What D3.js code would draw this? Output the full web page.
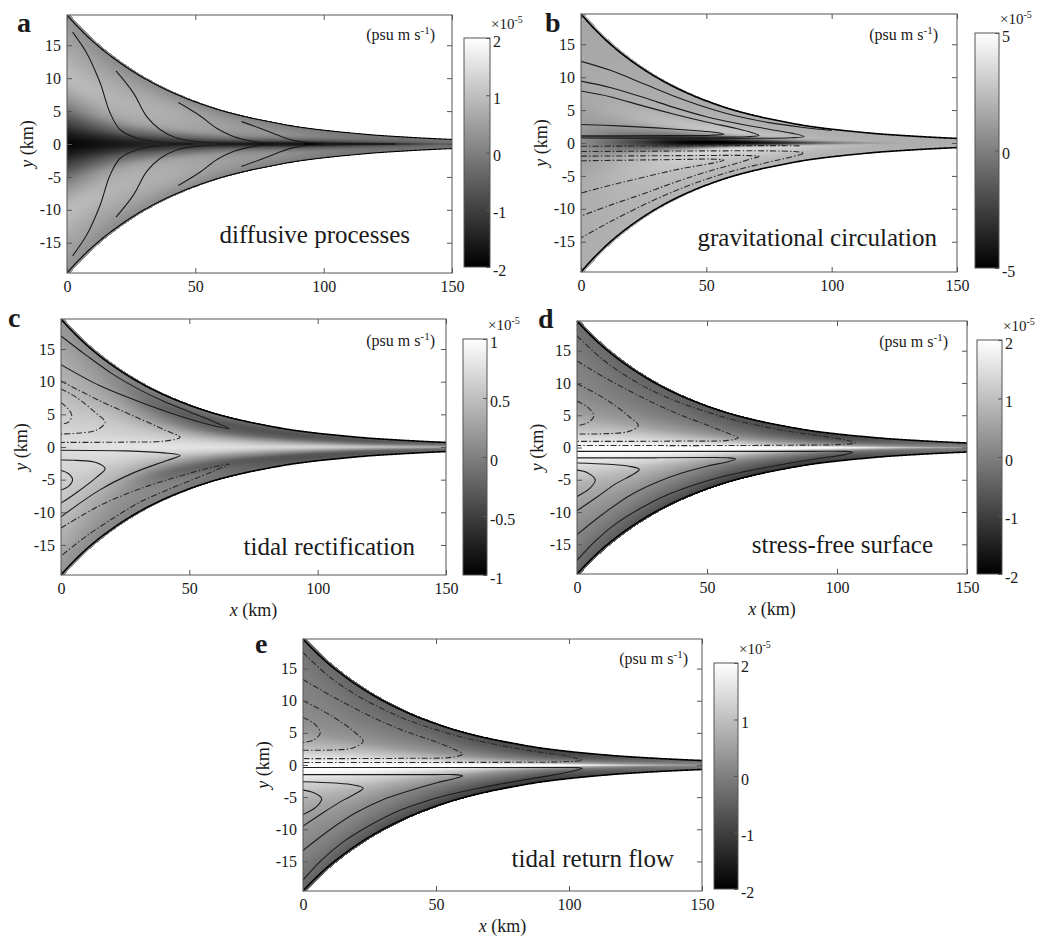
<!DOCTYPE html>
<html>
<head>
<meta charset="utf-8">
<script src="https://cdn.jsdelivr.net/npm/d3@7/dist/d3.min.js"></script>
<style>
  html, body { margin: 0; padding: 0; background: #fff; }
  svg { display: block; }
  svg text { font-family: "Liberation Serif", "Times New Roman", serif; fill: #1a1a1a; }
</style>
</head>
<body>
<svg id="fig" width="1053" height="939" viewBox="0 0 1053 939"></svg>
<script>
// ---------- channel geometry: half-width (km) sampled along the channel ----------
const boundaryX    = [0, 10, 20, 30, 40, 50, 60, 70, 80, 90, 100, 110, 120, 130, 140, 150];
const boundaryHalf = [19.6, 15.6, 12.5, 10.0, 8.0, 6.4, 5.1, 4.1, 3.3, 2.6, 2.1, 1.7, 1.35, 1.1, 0.88, 0.7];

// ---------- flux fields, sampled at along-channel nodes x and relative cross-channel nodes eta = y / half-width ----------
const xNodes   = [0, 20, 40, 60, 80, 100, 125, 150];
const etaNodes = [1, 0.75, 0.5, 0.3, 0.15, 0.05, 0, -0.05, -0.15, -0.3, -0.5, -0.75, -1];

// (a) diffusive processes, units of 1e-5 psu m/s
const fieldA = [
  [ 0.3,  0.2,  0.2,  0.1,  0.0, -0.1, -0.2, -0.2],
  [ 0.6,  0.6,  0.6,  0.4,  0.2,  0.0, -0.2, -0.2],
  [ 0.9,  0.8,  0.7,  0.5,  0.3,  0.0, -0.3, -0.2],
  [ 0.1,  0.5,  0.5,  0.3,  0.0, -0.4, -0.5, -0.3],
  [-1.0, -0.5, -0.4, -0.4, -0.7, -1.0, -0.8, -0.4],
  [-1.7, -1.4, -1.2, -1.2, -1.5, -1.8, -1.3, -0.5],
  [-1.9, -1.6, -1.4, -1.4, -1.8, -1.95,-1.4, -0.5],
  [-1.7, -1.4, -1.2, -1.2, -1.5, -1.8, -1.3, -0.5],
  [-1.0, -0.5, -0.4, -0.4, -0.7, -1.0, -0.8, -0.4],
  [ 0.1,  0.5,  0.5,  0.3,  0.0, -0.4, -0.5, -0.3],
  [ 0.9,  0.8,  0.7,  0.5,  0.3,  0.0, -0.3, -0.2],
  [ 0.6,  0.6,  0.6,  0.4,  0.2,  0.0, -0.2, -0.2],
  [ 0.3,  0.2,  0.2,  0.1,  0.0, -0.1, -0.2, -0.2]
];
// (b) gravitational circulation
const fieldB = [
  [1.5, 1.6, 1.7, 1.7, 1.8, 1.8, 1.8, 1.8],
  [1.6, 1.7, 1.8, 1.9, 1.9, 1.8, 1.8, 1.8],
  [1.6, 1.8, 2.0, 2.2, 2.1, 1.9, 1.8, 1.8],
  [1.5, 1.9, 2.4, 2.6, 2.3, 2.0, 1.8, 1.8],
  [1.1, 0.6,-0.3,-0.3, 0.8, 1.5, 1.8, 1.8],
  [0.7,-1.5,-4.0,-4.4,-2.6, 0.0, 1.6, 1.8],
  [0.5,-2.0,-4.6,-4.9,-3.5,-0.8, 1.4, 1.8],
  [0.7,-0.8,-2.6,-3.0,-1.8, 0.4, 1.6, 1.8],
  [1.3, 1.8, 2.5, 3.0, 2.8, 2.2, 1.8, 1.8],
  [1.7, 2.3, 3.0, 3.2, 3.0, 2.4, 1.9, 1.8],
  [1.8, 2.2, 2.5, 2.6, 2.5, 2.1, 1.9, 1.8],
  [1.8, 2.0, 2.2, 2.2, 2.1, 2.0, 1.9, 1.8],
  [1.8, 1.9, 2.0, 2.0, 2.0, 1.9, 1.8, 1.8]
];
// (c) tidal rectification
const fieldC = [
  [0.15, 0.05,-0.05,-0.1, -0.2, -0.25,-0.2, -0.15],
  [0.3,  0.15,-0.2, -0.3, -0.35,-0.35,-0.3, -0.2 ],
  [0.4,  0.35, 0.1, -0.15,-0.2, -0.2, -0.2, -0.1 ],
  [0.55, 0.55, 0.45, 0.3,  0.2,  0.15, 0.05, 0.05],
  [0.65, 0.65, 0.65, 0.6,  0.5,  0.45, 0.3,  0.2 ],
  [0.72, 0.75, 0.75, 0.72, 0.65, 0.6,  0.45, 0.3 ],
  [0.73, 0.77, 0.78, 0.75, 0.68, 0.62, 0.48, 0.32],
  [0.72, 0.75, 0.75, 0.72, 0.65, 0.6,  0.45, 0.3 ],
  [0.68, 0.66, 0.6,  0.55, 0.45, 0.4,  0.3,  0.2 ],
  [0.6,  0.5,  0.3,  0.15, 0.1,  0.05, 0.0,  0.0 ],
  [0.5,  0.3, -0.1, -0.25,-0.3, -0.3, -0.25,-0.15],
  [0.35, 0.15, 0.05,-0.1, -0.3, -0.35,-0.3, -0.2 ],
  [0.15, 0.05, 0.0, -0.1, -0.2, -0.25,-0.2, -0.15]
];
// (d) stress-free surface
const fieldD = [
  [-0.3, -0.4, -0.5, -0.7, -0.9, -0.9, -0.6, -0.3],
  [-0.05,-0.2, -0.3, -0.5, -0.7, -0.8, -0.5, -0.2],
  [ 0.1,  0.05, 0.0, -0.15,-0.35,-0.5, -0.3, -0.1],
  [ 0.4,  0.5,  0.5,  0.4,  0.2,  0.0,  0.0,  0.0],
  [ 1.0,  1.2,  1.2,  1.1,  0.8,  0.6,  0.3,  0.1],
  [ 1.6,  1.7,  1.7,  1.7,  1.6,  1.5,  0.8,  0.3],
  [ 1.95, 1.95, 1.95, 1.95, 1.9,  1.9,  1.1,  0.4],
  [ 1.95, 1.95, 1.95, 1.95, 1.9,  1.8,  1.0,  0.4],
  [ 1.4,  1.5,  1.5,  1.4,  1.1,  0.8,  0.4,  0.1],
  [ 0.8,  0.9,  0.8,  0.6,  0.3,  0.0, -0.1,  0.0],
  [ 0.4,  0.4,  0.2, -0.1, -0.3, -0.5, -0.3, -0.1],
  [ 0.0, -0.1, -0.3, -0.6, -0.8, -0.8, -0.5, -0.2],
  [-0.4, -0.6, -0.8, -1.0, -1.1, -1.0, -0.6, -0.3]
];
// (e) tidal return flow
const fieldE = [
  [-0.3, -0.4, -0.5, -0.7, -0.9, -0.9, -0.6, -0.3],
  [-0.05,-0.2, -0.3, -0.5, -0.7, -0.8, -0.5, -0.2],
  [ 0.1,  0.05, 0.0, -0.15,-0.35,-0.5, -0.3, -0.1],
  [ 0.3,  0.4,  0.4,  0.3,  0.1,  0.0,  0.0,  0.0],
  [ 0.9,  1.1,  1.1,  1.0,  0.8,  0.6,  0.3,  0.1],
  [ 1.6,  1.7,  1.7,  1.7,  1.6,  1.5,  0.8,  0.3],
  [ 1.95, 1.95, 1.95, 1.95, 1.9,  1.9,  1.1,  0.4],
  [ 1.95, 1.95, 1.95, 1.95, 1.9,  1.8,  1.0,  0.4],
  [ 1.3,  1.4,  1.4,  1.3,  1.0,  0.7,  0.4,  0.1],
  [ 0.7,  0.8,  0.7,  0.5,  0.2,  0.0, -0.1,  0.0],
  [ 0.3,  0.3,  0.1, -0.1, -0.3, -0.5, -0.3, -0.1],
  [ 0.0, -0.1, -0.3, -0.6, -0.8, -0.8, -0.5, -0.2],
  [-0.4, -0.6, -0.8, -1.0, -1.1, -1.0, -0.6, -0.3]
];

// ---------- contour lines, [x km, y km] ----------
// (a) upper half; the lower half is its mirror image
const aLines = [
  [[2.2,17.0],[7.7,13.8],[12.9,9.3],[16.7,4.8],[20.6,2.2],[27.1,0.9],[36.2,0.25],[49,0.02]],
  [[19.1,11.1],[25.8,7.8],[31,4.2],[36.2,2.2],[42.7,0.9],[51.8,0.3],[68.7,0.03]],
  [[43.4,6.3],[51.8,4.3],[58.3,2.4],[64.8,1.15],[72.6,0.4],[80,0.12],[92,0.02]],
  [[68,3.4],[75.2,2.4],[81.7,1.4],[88.2,0.55],[97,0.15],[110,0.04],[128,0]]
];
const bSolid = [
  [[0,12.4],[12,11.0],[25,9.0],[38,7.0],[50,5.4],[62,4.1],[75,3.1],[88,2.4],[100,1.9]],
  [[0,9.4],[12,8.4],[25,6.9],[38,5.3],[50,4.0],[62,3.0],[75,2.1],[84,1.5],[89,1.0],[84,0.8],[70,0.72],[50,0.7],[25,0.72],[0,0.75]],
  [[0,7.9],[12,7.0],[25,5.6],[38,4.3],[50,3.2],[62,2.2],[68,1.6],[71,1.15],[66,0.95],[50,0.9],[25,0.92],[0,0.95]],
  [[0,2.8],[15,2.6],[30,2.3],[45,1.9],[54,1.6],[57,1.35],[52,1.18],[35,1.12],[0,1.1]]
];
const bDash = [
  [[0,-0.5],[30,-0.45],[60,-0.4],[80,-0.4],[88,-0.45]],
  [[0,-1.3],[25,-1.25],[50,-1.2],[75,-1.2],[85,-1.3],[89,-1.5],[85,-2.0],[75,-2.9],[62,-4.1],[50,-5.5],[38,-7.2],[25,-9.4],[12,-11.9],[0,-14.4]],
  [[0,-2.0],[25,-1.95],[50,-1.9],[66,-1.9],[71,-2.05],[68,-2.4],[62,-3.1],[50,-4.4],[38,-5.9],[25,-7.7],[12,-9.4],[0,-11.1]],
  [[0,-2.7],[20,-2.6],[40,-2.5],[52,-2.45],[57,-2.6],[52,-3.1],[40,-3.9],[25,-5.2],[12,-6.4],[0,-7.6]]
];
const cSolid = [
  [[0,17.0],[10,14.0],[20,11.2],[30,8.9],[40,7.0],[50,5.4],[60,3.8],[65.5,2.8],[58,3.4],[45,4.9],[30,7.0],[15,9.4],[0,12.6]],
  [[0,-0.5],[25,-0.6],[40,-0.9],[46.4,-1.3],[41,-2.1],[28,-4.0],[15,-6.6],[0,-10.7]],
  [[0,-2.0],[6,-2.05],[13.9,-2.4],[17.2,-3.3],[13.9,-4.6],[6,-7.0],[0,-8.6]],
  [[0,-3.6],[3,-4.1],[4.5,-5.0],[3,-6.0],[0,-6.6]]
];
const cDash = [
  [[0,10.1],[15,7.1],[28,4.8],[41,2.5],[46.4,1.5],[40,0.9],[25,0.75],[0,0.7]],
  [[0,8.9],[6,7.6],[13.9,5.1],[17.2,3.8],[13.9,2.6],[6,2.1],[0,2.0]],
  [[0,6.8],[2.9,5.8],[4.2,4.8],[2.9,3.8],[0,3.5]],
  [[0,-12.4],[15,-9.0],[30,-6.5],[45,-4.6],[58,-3.2],[65.5,-2.6],[60,-3.6],[50,-5.2],[40,-6.8],[30,-8.6],[20,-11.0],[10,-13.6],[0,-16.7]]
];
const dSolid = [
  [[0,-0.6],[30,-0.6],[60,-0.6],[90,-0.6],[103,-0.6],[106,-0.75],[103,-1.1],[95,-1.6],[85,-2.2],[75,-2.9],[65,-3.7],[55,-4.6],[45,-5.8],[35,-7.3],[25,-9.3],[15,-11.8],[7,-14.5],[0,-17.5]],
  [[0,-1.6],[30,-1.6],[50,-1.55],[58,-1.6],[61,-1.8],[58,-2.2],[50,-2.9],[40,-4.0],[30,-5.5],[20,-7.5],[10,-10.3],[0,-13.5]],
  [[0,-2.4],[12,-2.6],[20,-2.9],[24,-3.4],[21,-4.3],[15,-5.6],[8,-7.6],[0,-9.8]],
  [[0,-3.5],[4,-3.9],[7,-5.0],[5,-6.3],[0,-7.6]]
];
const dDash = [
  [[0,17.3],[10,13.6],[20,10.8],[30,8.6],[40,6.9],[50,5.5],[60,4.3],[70,3.4],[80,2.6],[90,2.0],[100,1.4],[105,1.0],[107,0.7],[100,0.45],[80,0.35],[50,0.3],[25,0.3],[0,0.3]],
  [[0,13.4],[10,11.0],[20,8.8],[30,6.8],[40,5.0],[50,3.5],[58,2.2],[62,1.5],[58,1.1],[40,1.0],[20,0.95],[0,0.95]],
  [[0,9.9],[8,8.2],[15,6.4],[20,4.8],[23.6,3.4],[20,2.5],[12,2.15],[0,2.1]],
  [[0,7.2],[4,6.3],[6.5,4.9],[4,3.8],[0,3.4]]
];
const eSolid = [
  [[0,-0.4],[30,-0.4],[60,-0.4],[90,-0.4],[102,-0.4],[105,-0.5],[102,-0.9],[95,-1.5],[85,-2.2],[75,-2.9],[65,-3.7],[55,-4.6],[45,-5.8],[35,-7.3],[25,-9.4],[15,-12.0],[7,-14.8],[0,-17.9]],
  [[0,-1.5],[30,-1.5],[50,-1.5],[57,-1.5],[60,-1.7],[57,-2.1],[50,-2.8],[40,-4.0],[30,-5.4],[20,-7.4],[10,-10.1],[0,-13.3]],
  [[0,-2.6],[12,-2.8],[19,-3.1],[22.6,-3.6],[20,-4.4],[15,-5.5],[8,-7.3],[0,-9.5]],
  [[0,-3.9],[4,-4.3],[7,-5.2],[5,-6.5],[0,-7.7]]
];
const eDash = [
  [[0,17.5],[10,13.7],[20,10.9],[30,8.7],[40,6.9],[50,5.5],[60,4.3],[70,3.4],[80,2.6],[90,1.95],[100,1.35],[103,1.0],[105,0.73],[98,0.5],[80,0.42],[50,0.4],[25,0.4],[0,0.4]],
  [[0,13.3],[10,10.9],[20,8.7],[30,6.7],[40,5.0],[50,3.6],[57,2.4],[60,1.7],[56,1.2],[40,1.05],[20,1.0],[0,1.0]],
  [[0,10.0],[8,8.3],[15,6.5],[20,4.9],[22.6,3.7],[19,2.7],[12,2.35],[0,2.3]],
  [[0,7.4],[4,6.5],[6.5,5.0],[4,3.9],[0,3.5]]
];

// ---------- axis ticks and labels ----------
const xTicks = [0, 50, 100, 150];
const yTicks = [-15, -10, -5, 0, 5, 10, 15];
const yHalfRange = 19.6;
const panelLetters = ["a", "b", "c", "d", "e"];
const panelTitles = ["diffusive processes", "gravitational circulation", "tidal rectification", "stress-free surface", "tidal return flow"];
const colorLimits = [2, 5, 1, 2, 2];
const colorTicks = [[-2,-1,0,1,2], [-5,0,5], [-1,-0.5,0,0.5,1], [-2,-1,0,1,2], [-2,-1,0,1,2]];

// ---------- layout ----------
const layout = [
  { frame:[67,452,15,273],  cb:[464,490,38,267],  letter:[17,32],  titleRight:410, titleBase:243, unitRight:435, unitBase:40,  xLabel:false },
  { frame:[581,957,14,272], cb:[975,999,33,268],  letter:[545,32], titleRight:937, titleBase:246, unitRight:938, unitBase:40,  xLabel:false },
  { frame:[61,446,319,575], cb:[463,487,339,575], letter:[8,327],  titleRight:415, titleBase:555, unitRight:435, unitBase:346, xLabel:true },
  { frame:[577,967,321,574],cb:[977,1002,340,574],letter:[538,328],titleRight:933, titleBase:553, unitRight:948, unitBase:347, xLabel:true },
  { frame:[303,702,639,891],cb:[714,738,663,889], letter:[255,653],titleRight:674, titleBase:867, unitRight:688, unitBase:664, xLabel:true }
];
const fields = [fieldA, fieldB, fieldC, fieldD, fieldE];
const solidSets = [aLines, bSolid, cSolid, dSolid, eSolid];
const dashSets = [[], bDash, cDash, dDash, eDash];

const serif = "Liberation Serif, Times New Roman, serif";
const svg = d3.select("#fig");
const defs = svg.append("defs");
const ramp = defs.append("linearGradient").attr("id", "grayRamp")
  .attr("x1", 0).attr("y1", 1).attr("x2", 0).attr("y2", 0);
ramp.append("stop").attr("offset", 0).attr("stop-color", "#000");
ramp.append("stop").attr("offset", 1).attr("stop-color", "#fff");

// half-width interpolated in log space between the sampled positions
const logHalf = d3.scaleLinear().domain(boundaryX).range(boundaryHalf.map(Math.log)).clamp(true);
const halfAt = x => Math.exp(logHalf(x));

const xIndex = d3.scaleLinear().domain(xNodes).range(d3.range(xNodes.length)).clamp(true);
const etaIndex = d3.scaleLinear().domain(etaNodes).range(d3.range(etaNodes.length)).clamp(true);

function cubic(arr, u) {
  const n = arr.length;
  const i = Math.max(0, Math.min(n - 2, Math.floor(u)));
  const t = u - i;
  const g = k => arr[Math.max(0, Math.min(n - 1, k))];
  const p0 = g(i - 1), p1 = g(i), p2 = g(i + 1), p3 = g(i + 2);
  const t2 = t * t, t3 = t2 * t;
  return 0.5 * (2 * p1 + (-p0 + p2) * t + (2 * p0 - 5 * p1 + 4 * p2 - p3) * t2 + (-p0 + 3 * p1 - 3 * p2 + p3) * t3);
}

const xDense = d3.range(0, 150.001, 0.5);

layout.forEach((L, k) => {
  const [x0, x1, y0, y1] = L.frame;
  const xs = d3.scaleLinear().domain([0, 150]).range([x0, x1]);
  const ys = d3.scaleLinear().domain([-yHalfRange, yHalfRange]).range([y1, y0]);
  const lim = colorLimits[k];
  const grayScale = d3.scaleLinear().domain([-lim, lim]).range([0, 255]).clamp(true);
  const field = fields[k];
  const g = svg.append("g");

  // shaded field inside the channel
  const w = Math.round(x1 - x0), h = Math.round(y1 - y0);
  const canvas = document.createElement("canvas");
  canvas.width = w; canvas.height = h;
  const ctx = canvas.getContext("2d");
  const img = ctx.createImageData(w, h);
  for (let i = 0; i < w; i++) {
    const x = xs.invert(x0 + i + 0.5);
    const B = halfAt(x);
    const u = xIndex(x);
    const col = field.map(row => cubic(row, u));
    for (let j = 0; j < h; j++) {
      const y = ys.invert(y0 + j + 0.5);
      const eta = y / B;
      if (Math.abs(eta) > 1.03) continue;
      const v = cubic(col, etaIndex(Math.max(-1, Math.min(1, eta))));
      const c = Math.round(grayScale(v));
      const p = (j * w + i) * 4;
      img.data[p] = c; img.data[p + 1] = c; img.data[p + 2] = c; img.data[p + 3] = 255;
    }
  }
  ctx.putImageData(img, 0, 0);
  g.append("image").attr("x", x0).attr("y", y0).attr("width", w).attr("height", h)
    .attr("preserveAspectRatio", "none").attr("href", canvas.toDataURL());

  // channel clip
  const outline = xDense.map(x => [x, halfAt(x)]).concat(xDense.slice().reverse().map(x => [x, -halfAt(x)]));
  const clipId = "chan" + k;
  defs.append("clipPath").attr("id", clipId).append("path")
    .attr("d", d3.line().x(d => xs(d[0])).y(d => ys(d[1]))(outline) + "Z");

  const curve = d3.line().x(d => xs(d[0])).y(d => ys(d[1])).curve(d3.curveCatmullRom.alpha(0.5));
  const lines = g.append("g").attr("clip-path", `url(#${clipId})`).attr("fill", "none");
  solidSets[k].forEach(pts => {
    lines.append("path").attr("d", curve(pts)).attr("stroke", "#1c1c1c").attr("stroke-width", 1.1);
    if (k === 0) {
      lines.append("path").attr("d", curve(pts.map(d => [d[0], -d[1]]))).attr("stroke", "#1c1c1c").attr("stroke-width", 1.1);
    }
  });
  dashSets[k].forEach(pts => {
    lines.append("path").attr("d", curve(pts)).attr("stroke", "#2a2a2a").attr("stroke-width", 1.1)
      .attr("stroke-dasharray", "6,2.2,1.4,2.2");
  });

  // channel banks
  const bank = d3.line().x(d => xs(d[0])).y(d => ys(d[1]));
  g.append("path").attr("d", bank(xDense.map(x => [x, halfAt(x)])))
    .attr("fill", "none").attr("stroke", "#000").attr("stroke-width", k === 0 ? 1.1 : 1.6);
  g.append("path").attr("d", bank(xDense.map(x => [x, -halfAt(x)])))
    .attr("fill", "none").attr("stroke", "#000").attr("stroke-width", k === 0 ? 1.1 : 1.6);

  // frame and ticks
  const styleAxis = sel => {
    sel.select(".domain").remove();
    sel.selectAll(".tick line").attr("stroke", "#555");
    sel.selectAll("text").attr("font-family", serif).attr("font-size", 16).attr("fill", "#1a1a1a");
  };
  g.append("g").attr("transform", `translate(0,${y1})`)
    .call(d3.axisBottom(xs).tickValues(xTicks).tickSize(-5).tickPadding(8).tickFormat(d => String(d))).call(styleAxis);
  g.append("g").attr("transform", `translate(0,${y0})`)
    .call(d3.axisTop(xs).tickValues(xTicks).tickSize(-5).tickFormat("")).call(styleAxis);
  g.append("g").attr("transform", `translate(${x0},0)`)
    .call(d3.axisLeft(ys).tickValues(yTicks).tickSize(-5).tickPadding(6).tickFormat(d => String(d))).call(styleAxis);
  g.append("g").attr("transform", `translate(${x1},0)`)
    .call(d3.axisRight(ys).tickValues(yTicks).tickSize(-5).tickFormat("")).call(styleAxis);
  g.append("rect").attr("x", x0).attr("y", y0).attr("width", x1 - x0).attr("height", y1 - y0)
    .attr("fill", "none").attr("stroke", "#555").attr("stroke-width", 1);

  // axis labels
  const yl = g.append("text").attr("transform", `translate(${x0 - 34},${(y0 + y1) / 2}) rotate(-90)`)
    .attr("text-anchor", "middle").attr("font-family", serif).attr("font-size", 18);
  yl.append("tspan").attr("font-style", "italic").text("y");
  yl.append("tspan").text(" (km)");
  if (L.xLabel) {
    const xl = g.append("text").attr("x", (x0 + x1) / 2).attr("y", y1 + 41)
      .attr("text-anchor", "middle").attr("font-family", serif).attr("font-size", 18);
    xl.append("tspan").attr("font-style", "italic").text("x");
    xl.append("tspan").text(" (km)");
  }

  // panel letter, process name, units
  g.append("text").attr("x", L.letter[0]).attr("y", L.letter[1]).attr("font-family", serif)
    .attr("font-size", 28).attr("font-weight", "bold").text(panelLetters[k]);
  g.append("text").attr("x", L.titleRight).attr("y", L.titleBase).attr("font-family", serif)
    .attr("text-anchor", "end").attr("font-size", 25).text(panelTitles[k]);
  const unit = g.append("text").attr("x", L.unitRight).attr("y", L.unitBase).attr("font-family", serif)
    .attr("text-anchor", "end").attr("font-size", 16);
  unit.append("tspan").text("(psu m s");
  unit.append("tspan").attr("dy", -6).attr("font-size", 11).text("-1");
  unit.append("tspan").attr("dy", 6).text(")");

  // colour bar
  const [c0, c1, cy0, cy1] = L.cb;
  const cs = d3.scaleLinear().domain([-lim, lim]).range([cy1, cy0]);
  g.append("rect").attr("x", c0).attr("y", cy0).attr("width", c1 - c0).attr("height", cy1 - cy0)
    .attr("fill", "url(#grayRamp)");
  const cbAxis = g.append("g").attr("transform", `translate(${c1},0)`)
    .call(d3.axisRight(cs).tickValues(colorTicks[k]).tickSize(-4).tickPadding(3).tickFormat(d => String(d)))
    .call(styleAxis);
  cbAxis.selectAll(".tick text").attr("dy", "0.5em");
  g.append("rect").attr("x", c0).attr("y", cy0).attr("width", c1 - c0).attr("height", cy1 - cy0)
    .attr("fill", "none").attr("stroke", "#555").attr("stroke-width", 1);
  const mult = g.append("text").attr("x", c1 + 1).attr("y", cy0 - 9).attr("font-family", serif).attr("font-size", 15);
  mult.append("tspan").text("×10");
  mult.append("tspan").attr("dy", -6).attr("font-size", 10).text("-5");
});
</script>
</body>
</html>
